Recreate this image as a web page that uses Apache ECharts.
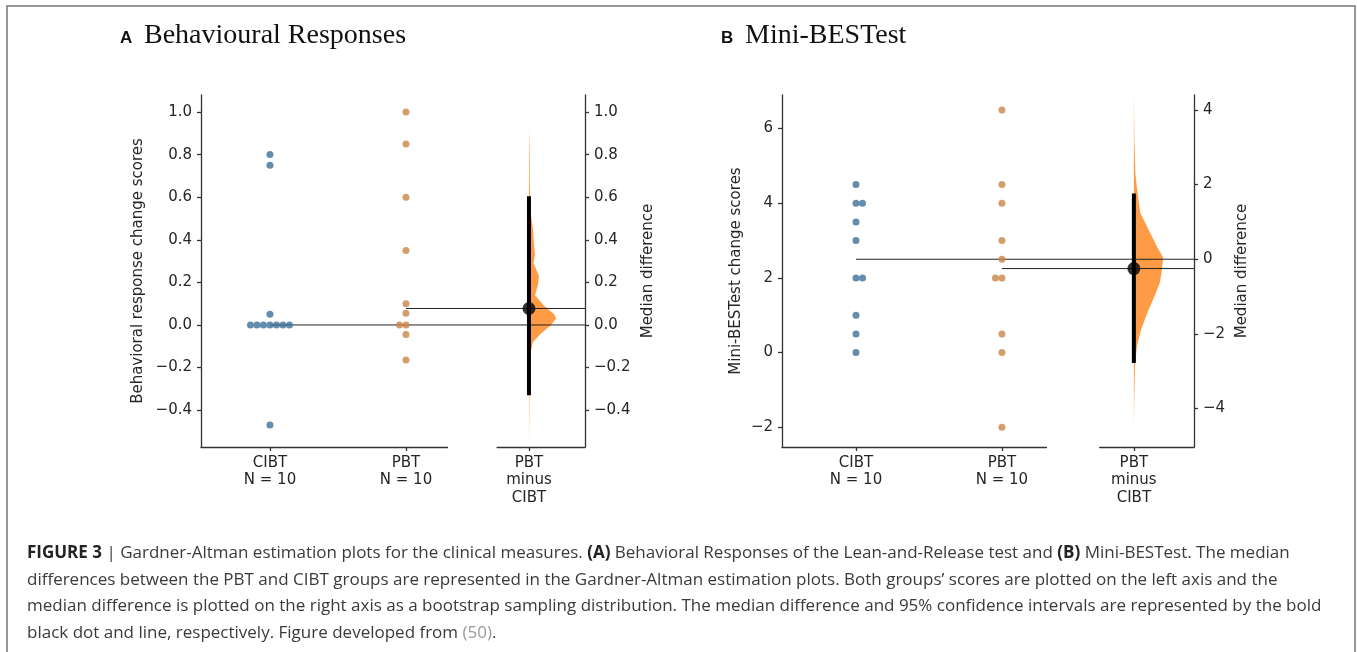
<!DOCTYPE html>
<html>
<head>
<meta charset="utf-8">
<script src="https://cdn.jsdelivr.net/npm/echarts@6/dist/echarts.min.js"></script>
<style>
html,body{margin:0;padding:0;background:#fff}
#main{width:1357px;height:652px}
</style>
</head>
<body>
<div id="main"></div>
<script>
// group labels on the bottom axes
var groupLabels = ['CIBT\nN = 10', 'PBT\nN = 10', 'PBT\nminus\nCIBT'];

// A  behavioural responses
var cibtA = [0.8, 0.75, 0.05, 0, 0, 0, 0, 0, 0, 0, -0.47];
var pbtA = [1.0, 0.85, 0.6, 0.35, 0.1, 0.055, 0, 0, -0.045, -0.165];
var ciA = [-0.33, 0.605];
var ticksA = [-0.4, -0.2, 0, 0.2, 0.4, 0.6, 0.8, 1.0];
var distValA = [0.93, 0.8, 0.65, 0.55, 0.5, 0.45, 0.38, 0.33, 0.29, 0.23, 0.19, 0.14, 0.09, 0.05, 0.03, 0.0, -0.04, -0.08, -0.14, -0.3, -0.55];
var distDenA = [0, 0.6, 0.8, 1.5, 2.5, 4, 5, 6, 4.5, 10, 9, 6, 15, 25, 27, 22, 12, 4, 1.2, 0.6, 0];

// B  mini-BESTest
var cibtB = [4.5, 4, 4, 3.5, 3, 2, 2, 1, 0.5, 0];
var pbtB = [6.5, 4.5, 4, 3, 2.5, 2, 2, 0.5, 0, -2];
var ciB = [-2.78, 1.76];
var ticksB = [-2, 0, 2, 4, 6];
var ticksBR = [-4, -2, 0, 2, 4];
var distValB = [4.45, 3.2, 2.3, 1.9, 1.25, 0.8, 0.35, 0.05, -0.27, -0.62, -0.98, -1.43, -1.88, -2.32, -2.86, -3.9, -4.5];
var distDenB = [0, 0.5, 1.5, 3, 6, 14, 22, 28, 27, 25, 20, 13, 7, 3, 1, 0.3, 0];

var captionLines = [
  '{b|FIGURE 3} | Gardner-Altman estimation plots for the clinical measures. {b|(A)} Behavioral Responses of the Lean-and-Release test and {b|(B)} Mini-BESTest. The median',
  'differences between the PBT and CIBT groups are represented in the Gardner-Altman estimation plots. Both groups\u2019 scores are plotted on the left axis and the',
  'median difference is plotted on the right axis as a bootstrap sampling distribution. The median difference and 95% confidence intervals are represented by the bold',
  'black dot and line, respectively. Figure developed from {g|(50)}.'
];

var blue = '#3d7099', orange = '#cc8547', violin = '#ff9b45';
var axisColor = '#333', textColor = '#262626';
var font = 'DejaVu Sans';

// x positions of the three columns and the axis pieces
var xMin = -0.507, xMax = 2.316, diffX = 1.904, seg1End = 1.305, seg2Start = 1.67;
var violinW = 0.2, dotGap = 6.5;
var gridTop = 95, gridH = 352;

function median(a){
  var s = a.slice().sort(function(p,q){return p-q;});
  var n = s.length;
  return n % 2 ? s[(n-1)/2] : (s[n/2-1] + s[n/2]) / 2;
}
function swarm(vals, x, side){
  var seen = {};
  return vals.map(function(v){
    var k = seen[v] || 0; seen[v] = k + 1;
    var m = k === 0 ? 0 : (k % 2 === 1 ? Math.ceil(k/2) : -k/2) * side;
    return {value:[x, v], symbolOffset:[m*dotGap, 0]};
  });
}
function fmt(v, d){
  return (v < -1e-9 ? '\u2212' : '') + Math.abs(v).toFixed(d);
}
function labelFor(v){
  if (Math.abs(v) < 1e-6) return groupLabels[0];
  if (Math.abs(v-1) < 1e-6) return groupLabels[1];
  return groupLabels[2];
}

var panels = [
  {left:201, right:585, cibt:cibtA, pbt:pbtA, ci:ciA, dv:distValA, dd:distDenA,
   yMin:-0.573, yMax:1.08, ticks:ticksA, rticks:ticksA, dec:1,
   name:'Behavioral response change scores', gap:55, rgap:56},
  {left:782, right:1194, cibt:cibtB, pbt:pbtB, ci:ciB, dv:distValB, dd:distDenB,
   yMin:-2.53, yMax:6.9, ticks:ticksB, rticks:ticksBR, dec:0,
   name:'Mini-BESTest change scores', gap:38, rgap:41}
];

var grids = [], xAxes = [], yAxes = [], series = [];
var lineSt = {color:axisColor, width:1.3};
var lblSt = {color:textColor, fontFamily:font, fontSize:15};

panels.forEach(function(p){
  var scale = (p.right - p.left) / (xMax - xMin);
  var g0 = grids.length;
  grids.push({left:p.left, top:gridTop, width:p.right-p.left, height:gridH, outerBoundsMode:'none'});
  grids.push({left:p.left, top:gridTop, width:(seg1End-xMin)*scale, height:gridH, outerBoundsMode:'none'});
  grids.push({left:p.left+(seg2Start-xMin)*scale, top:gridTop, width:(xMax-seg2Start)*scale, height:gridH, outerBoundsMode:'none'});

  var x0 = xAxes.length;
  xAxes.push({gridIndex:g0, type:'value', min:xMin, max:xMax, show:false});
  [[g0+1, xMin, seg1End, [0, 1]], [g0+2, seg2Start, xMax, [diffX]]].forEach(function(b){
    xAxes.push({
      gridIndex:b[0], type:'value', min:b[1], max:b[2], position:'bottom',
      axisLine:{show:true, onZero:false, lineStyle:lineSt},
      axisTick:{show:true, length:4, customValues:b[3], lineStyle:lineSt},
      axisLabel:{customValues:b[3], margin:7, lineHeight:17.5, color:textColor, fontFamily:font, fontSize:15,
        formatter:function(v){ return labelFor(v); }},
      splitLine:{show:false}
    });
  });

  var medC = median(p.cibt), medP = median(p.pbt);
  var yL = yAxes.length;
  yAxes.push({
    gridIndex:g0, type:'value', position:'left', min:p.yMin, max:p.yMax,
    axisLine:{show:true, onZero:false, lineStyle:lineSt},
    axisTick:{show:true, length:4, customValues:p.ticks, lineStyle:lineSt},
    axisLabel:Object.assign({customValues:p.ticks, margin:9, formatter:function(v){return fmt(v, p.dec);}}, lblSt),
    splitLine:{show:false},
    name:p.name, nameLocation:'middle', nameRotate:90, nameGap:p.gap, nameTextStyle:lblSt
  });
  yAxes.push({
    gridIndex:g0, type:'value', position:'right', min:p.yMin-medC, max:p.yMax-medC,
    axisLine:{show:true, onZero:false, lineStyle:lineSt},
    axisTick:{show:true, length:4, customValues:p.rticks, lineStyle:lineSt},
    axisLabel:Object.assign({customValues:p.rticks, margin:9, formatter:function(v){return fmt(v, p.dec);}}, lblSt),
    splitLine:{show:false},
    name:'Median difference', nameLocation:'middle', nameRotate:90, nameGap:p.rgap, nameTextStyle:lblSt
  });
  yAxes.push({gridIndex:g0+1, type:'value', show:false});
  yAxes.push({gridIndex:g0+2, type:'value', show:false});

  // bootstrap distribution
  var maxD = Math.max.apply(null, p.dd);
  series.push({
    type:'custom', xAxisIndex:x0, yAxisIndex:yL+1, z:1, silent:true,
    data:[[diffX, 0]],
    renderItem:function(params, api){
      var pts = [];
      for (var i = 0; i < p.dv.length; i++) {
        pts.push(api.coord([diffX + p.dd[i]/maxD*violinW, p.dv[i]]));
      }
      pts.push(api.coord([diffX, p.dv[p.dv.length-1]]));
      pts.push(api.coord([diffX, p.dv[0]]));
      return {type:'polygon', shape:{points:pts}, style:{fill:violin}};
    }
  });
  // median reference lines
  [[0, medC], [1, medP]].forEach(function(m){
    series.push({type:'line', xAxisIndex:x0, yAxisIndex:yL, z:2, silent:true, symbol:'none',
      data:[[m[0], m[1]], [xMax, m[1]]], lineStyle:{color:'#222', width:1}});
  });
  series.push({type:'scatter', xAxisIndex:x0, yAxisIndex:yL, z:3, symbolSize:7,
    itemStyle:{color:blue}, data:swarm(p.cibt, 0, 1)});
  series.push({type:'scatter', xAxisIndex:x0, yAxisIndex:yL, z:3, symbolSize:7,
    itemStyle:{color:orange}, data:swarm(p.pbt, 1, -1)});
  // CI and median difference
  series.push({type:'line', xAxisIndex:x0, yAxisIndex:yL+1, z:4, silent:true, symbol:'none',
    data:[[diffX, p.ci[0]], [diffX, p.ci[1]]], lineStyle:{color:'#000', width:4}});
  series.push({type:'scatter', xAxisIndex:x0, yAxisIndex:yL+1, z:5, symbolSize:13,
    itemStyle:{color:'#000'}, data:[[diffX, medP - medC]]});
});

var headSt = {fontFamily:'Liberation Sans', fontWeight:'bold', fontSize:17, color:'#111'};
var serifSt = {fontFamily:'Liberation Serif', fontWeight:'normal', fontSize:28, color:'#111'};
var capRich = {fontFamily:'Open Sans', fontSize:17, lineHeight:26.5, color:'#3a3a3a'};

var option = {
  backgroundColor:'#fff',
  animation:false,
  title:[
    {text:'A', left:120, top:30, padding:0, textStyle:headSt},
    {text:'Behavioural Responses', left:144, top:22, padding:0, textStyle:serifSt},
    {text:'B', left:721, top:30, padding:0, textStyle:headSt},
    {text:'Mini-BESTest', left:745, top:22, padding:0, textStyle:serifSt},
    {text:captionLines.join('\n'), left:27, top:540, padding:0,
     textStyle:Object.assign({fontWeight:'normal', rich:{
       b:Object.assign({}, capRich, {fontWeight:'bold', color:'#222'}),
       g:Object.assign({}, capRich, {color:'#9a9a9a'})
     }}, capRich)}
  ],
  grid:grids, xAxis:xAxes, yAxis:yAxes, series:series,
  graphic:[
    {type:'polyline', silent:true, shape:{points:[[7,652],[7,6],[1355,6],[1355,652]]},
     style:{stroke:'#777', lineWidth:1.5, fill:null}}
  ]
};

var myChart = echarts.init(document.getElementById('main'));
myChart.setOption(option);
window.addEventListener('resize', function(){ myChart.resize(); });
</script>
</body>
</html>
